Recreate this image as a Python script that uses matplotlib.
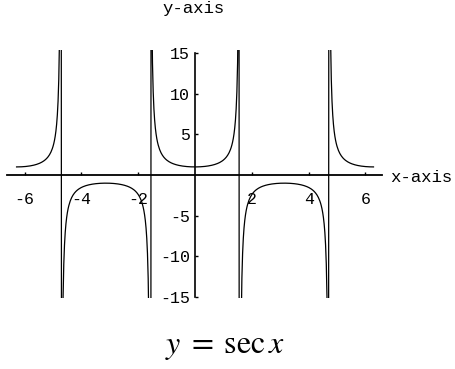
import matplotlib.pyplot as plt
import numpy as np

plt.rcParams['axes.unicode_minus'] = False
plt.rcParams['mathtext.fontset'] = 'stix'

# plotted function y = sec x over one full period each side of zero
x_start, x_end = -2 * np.pi, 2 * np.pi
n_samples = 500
x = np.linspace(x_start, x_end, n_samples)
y = 1 / np.cos(x)

x_ticks = [-6, -4, -2, 2, 4, 6]
x_tick_labels = ['-6', '-4', '-2', '2', '4', '6']
y_ticks = [-15, -10, -5, 5, 10, 15]
y_tick_labels = ['-15', '-10', '-5', '5', '10', '15']

mono = 'Liberation Mono'

fig = plt.figure(figsize=(4.55, 3.69), dpi=100)
ax = fig.add_axes([0.0154, 0.1924, 0.824, 0.672])

ax.plot(x, y, color='black', lw=0.9)
ax.set_xlim(-6.62, 6.58)
ax.set_ylim(-15.15, 15.4)

for side in ['top', 'right']:
    ax.spines[side].set_visible(False)
ax.spines['left'].set_position(('data', 0))
ax.spines['bottom'].set_position(('data', 0))
ax.spines['left'].set_bounds(-15, 15)
ax.spines['left'].set_linewidth(1.2)
ax.spines['bottom'].set_linewidth(1.3)

ax.set_xticks(x_ticks)
ax.set_xticklabels(x_tick_labels, family=mono, fontsize=12)
ax.set_yticks(y_ticks)
ax.set_yticklabels(y_tick_labels, family=mono, fontsize=12)
ax.tick_params(axis='x', direction='in', length=2, pad=12.5, width=1)
ax.tick_params(axis='y', direction='in', length=2, pad=3.5, width=1)

fig.text(194 / 455, 1 - 9 / 369, 'y-axis', family=mono, fontsize=12.5,
         ha='center', va='center')
fig.text(390 / 455, 1 - 178 / 369, 'x-axis', family=mono, fontsize=12.5,
         ha='left', va='center')
fig.text(225 / 455, 1 - 353 / 369, r'$y\;=\;\mathrm{sec}\,x$', fontsize=23,
         ha='center', va='baseline')

fig.savefig('out.png', dpi=100)
